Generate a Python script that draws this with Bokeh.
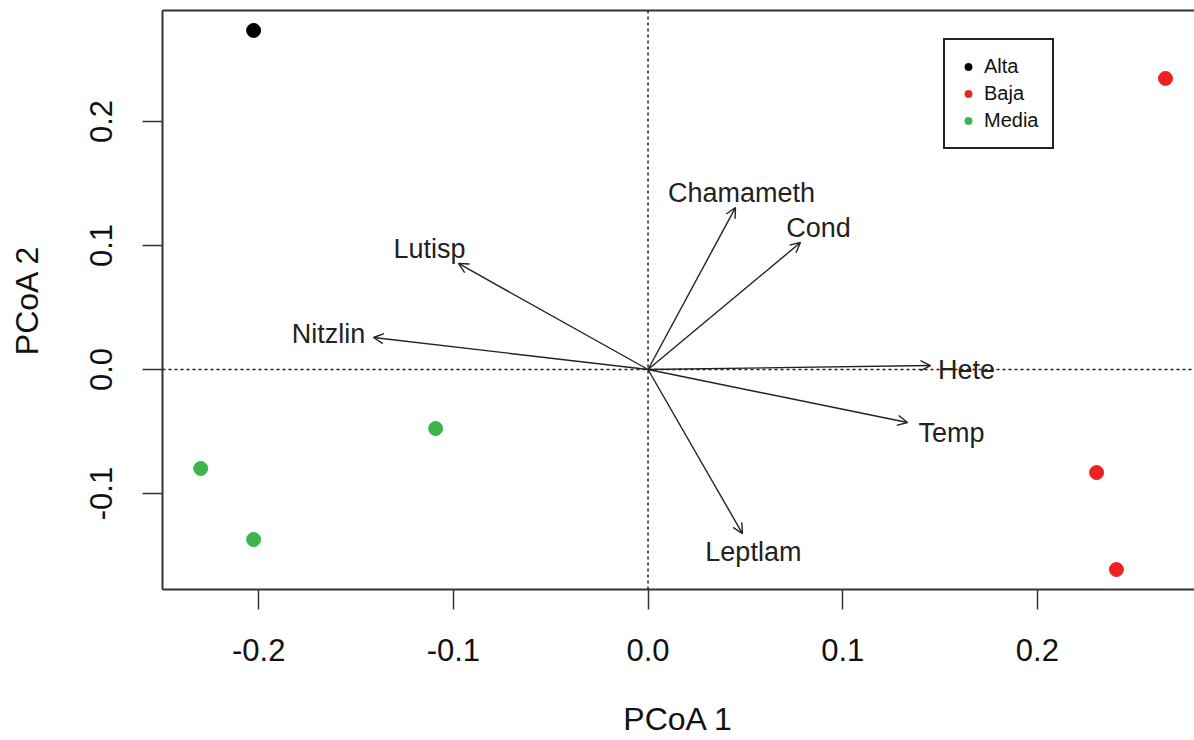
from bokeh.plotting import figure
from bokeh.models import (ColumnDataSource, Arrow, OpenHead, Span, Legend, LegendItem,
                          LinearAxis, FixedTicker, NumeralTickFormatter, Range1d)
from bokeh.core.properties import value
from bokeh.embed import file_html
from bokeh.resources import INLINE

# Site scores (PCoA)
alta_x = [-0.2026]
alta_y = [0.2734]
baja_x = [0.2658, 0.2304, 0.2406]
baja_y = [0.2347, -0.0831, -0.1613]
media_x = [-0.2298, -0.2026, -0.1091]
media_y = [-0.0798, -0.1371, -0.0476]

# Variable vectors
var_names = ["Chamameth", "Cond", "Lutisp", "Nitzlin", "Hete", "Temp", "Leptlam"]
var_x = [0.0449, 0.0783, -0.0974, -0.1410, 0.1451, 0.1333, 0.0485]
var_y = [0.1306, 0.1024, 0.0855, 0.0258, 0.0032, -0.0427, -0.1323]
lab_x = [0.0480, 0.0876, -0.1122, -0.1641, 0.1636, 0.1559, 0.0541]
lab_y = [0.1427, 0.1145, 0.0968, 0.0290, -0.0008, -0.0508, -0.1468]

x_ticks = [-0.2, -0.1, 0.0, 0.1, 0.2]
y_ticks = [-0.1, 0.0, 0.1, 0.2]
x_title = "PCoA 1"
y_title = "PCoA 2"

FONT = "Liberation Sans"
AX = "#333333"

p = figure(width=1194, height=740, output_backend="svg", toolbar_location=None,
           x_range=Range1d(-0.2494, 0.2807), y_range=Range1d(-0.1774, 0.2895),
           min_border_left=162, min_border_right=0, min_border_top=10,
           min_border_bottom=151)
p.outline_line_color = None
p.xgrid.visible = False
p.ygrid.visible = False

for ax in (p.xaxis[0], p.yaxis[0]):
    ax.axis_line_width = 2
    ax.axis_line_color = AX
    ax.major_tick_line_width = 1.5
    ax.major_tick_line_color = AX
    ax.major_tick_out = 20
    ax.major_tick_in = 0
    ax.minor_tick_out = 0
    ax.minor_tick_in = 0
    ax.major_label_text_font = FONT
    ax.major_label_text_font_size = "31px"
    ax.major_label_text_color = "#111111"
    ax.axis_label_text_font = FONT
    ax.axis_label_text_font_size = "32px"
    ax.axis_label_text_font_style = "normal"
    ax.axis_label_text_color = "#111111"
    ax.formatter = NumeralTickFormatter(format="0.0")

p.xaxis[0].ticker = FixedTicker(ticks=x_ticks)
p.yaxis[0].ticker = FixedTicker(ticks=y_ticks)
p.xaxis[0].axis_label = x_title
p.yaxis[0].axis_label = y_title
p.yaxis[0].major_label_orientation = "vertical"
p.xaxis[0].major_label_standoff = 29
p.xaxis[0].axis_label_standoff = 37
p.yaxis[0].major_label_standoff = 30
p.yaxis[0].axis_label_standoff = 43

top = LinearAxis(ticker=FixedTicker(ticks=[]), major_label_text_font_size="0px",
                 axis_line_width=2, axis_line_color=AX, major_tick_out=0, major_tick_in=0,
                 minor_tick_out=0, minor_tick_in=0)
p.add_layout(top, "above")

# reference lines
p.add_layout(Span(location=0, dimension="height", line_dash="3 3", line_width=1.5, line_color="#222222"))
p.add_layout(Span(location=0, dimension="width", line_dash="3 3", line_width=1.5, line_color="#222222"))

# arrows
asrc = ColumnDataSource(dict(x0=[0.0] * len(var_x), y0=[0.0] * len(var_y), x1=var_x, y1=var_y))
p.add_layout(Arrow(source=asrc, x_start="x0", y_start="y0", x_end="x1", y_end="y1",
                   line_color="#222222", line_width=1.4,
                   end=OpenHead(size=10, line_width=1.4, line_color="#222222")))

lsrc = ColumnDataSource(dict(x=lab_x, y=lab_y, t=var_names))
p.text(x="x", y="y", text="t", source=lsrc, text_font=value(FONT), text_font_size="27px",
       text_align="center", text_baseline="middle", text_color="#222222")

# points
p.scatter(alta_x, alta_y, size=14, color="#000000")
p.scatter(baja_x, baja_y, size=14, color="#EE2222")
p.scatter(media_x, media_y, size=14, color="#3DB54A")

# legend dummies (smaller markers, outside the visible range)
r_a = p.scatter([5], [5], size=12, color="#000000")
r_b = p.scatter([5], [5], size=12, color="#EE2222")
r_m = p.scatter([5], [5], size=12, color="#3DB54A")
leg = Legend(items=[LegendItem(label="Alta", renderers=[r_a]),
                    LegendItem(label="Baja", renderers=[r_b]),
                    LegendItem(label="Media", renderers=[r_m])],
             location=(781, 440), border_line_color="#222222", border_line_width=2,
             border_line_alpha=1,
             label_text_font=FONT, label_text_font_size="20px", label_text_color="#111111",
             glyph_width=18, glyph_height=25, label_height=25, spacing=2,
             padding=14, label_standoff=7, margin=0, background_fill_alpha=1)
p.add_layout(leg, "center")

open("out.html", "w").write(file_html(p, INLINE))
